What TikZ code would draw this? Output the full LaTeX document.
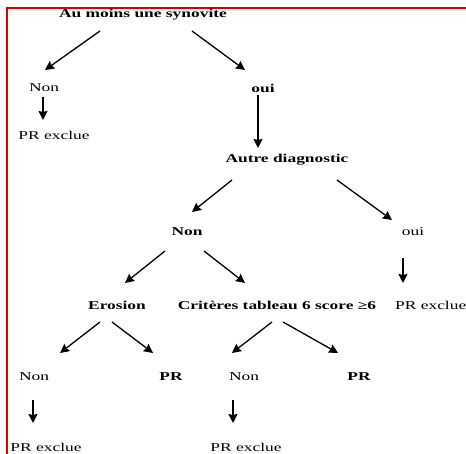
\documentclass[tikz,border=0pt]{standalone}
\usepackage{fontspec}
\setmainfont[FakeStretch=1.45]{Liberation Serif}
\usetikzlibrary{arrows.meta,calc}
\tikzset{
  lbl/.style={inner sep=0pt,font=\fontsize{12}{14}\selectfont},
  blbl/.style={lbl,font=\fontsize{12}{14}\selectfont\bfseries},
  arr/.style={line width=1.3pt,-{Stealth[length=9pt,width=9pt,inset=1pt]}},
  frame/.style={draw=red!85!black,line width=1.8pt}
}
\begin{document}
\begin{tikzpicture}[x=1pt,y=1pt]
\useasboundingbox (0,0) rectangle (466,454);
\draw[frame] (7,0) -- (7,446) -- (466,446);
% nodes
\node[blbl] (top) at (143,439) {Au moins une synovite};
\node[lbl] (non1) at (44,366) {Non};
\node[blbl] (oui1) at (263,366) {oui};
\node[lbl] (excl1) at (54,319) {PR exclue};
\node[blbl] (autre) at (287,294) {Autre diagnostic};
\node[blbl] (non2) at (187,222) {Non};
\node[lbl] (oui2) at (413,222) {oui};
\node[blbl] (ero) at (117,149) {Erosion};
\node[blbl] (crit) at (277,149) {Critères tableau 6 score ≥6};
\node[lbl,anchor=west] (excl2) at (395,149) {PR exclue};
\node[lbl] (non3) at (34,77) {Non};
\node[blbl] (pr1) at (171,77) {PR};
\node[lbl] (non4) at (244,77) {Non};
\node[blbl] (pr2) at (359,77) {PR};
\node[lbl] (excl3) at (46,7) {PR exclue};
\node[lbl] (excl4) at (246,7) {PR exclue};
% connectors
\draw[arr] ($(top)+(-43,-16)$) -- ($(non1)+(1,18)$);
\draw[arr] ($(top)+(49,-16)$) -- ($(oui1)+(-18,18)$);
\draw[arr] ($(non1)+(-1,-9)$) -- ($(excl1)+(-11,15)$);
\draw[arr] ($(oui1)+(-5,-7)$) -- ($(autre)+(-29,12)$);
\draw[arr] ($(autre)+(-55,-20)$) -- ($(non2)+(5,20)$);
\draw[arr] ($(autre)+(50,-20)$) -- ($(oui2)+(-21,12)$);
\draw[arr] ($(non2)+(-22,-19)$) -- ($(ero)+(8,22)$);
\draw[arr] ($(non2)+(17,-19)$) -- ($(crit)+(-32,22)$);
\draw[arr] ($(oui2)+(-10,-26)$) -- ($(excl2.west)+(8,22)$);
\draw[arr] ($(ero)+(-17,-17)$) -- ($(non3)+(26,24)$);
\draw[arr] ($(ero)+(-5,-17)$) -- ($(pr1)+(-18,24)$);
\draw[arr] ($(crit)+(-5,-17)$) -- ($(non4)+(-12,24)$);
\draw[arr] ($(crit)+(6,-17)$) -- ($(pr2)+(-21,24)$);
\draw[arr] ($(non3)+(-1,-23)$) -- ($(excl3)+(-13,24)$);
\draw[arr] ($(non4)+(-11,-23)$) -- ($(excl4)+(-13,24)$);
\end{tikzpicture}
\end{document}
